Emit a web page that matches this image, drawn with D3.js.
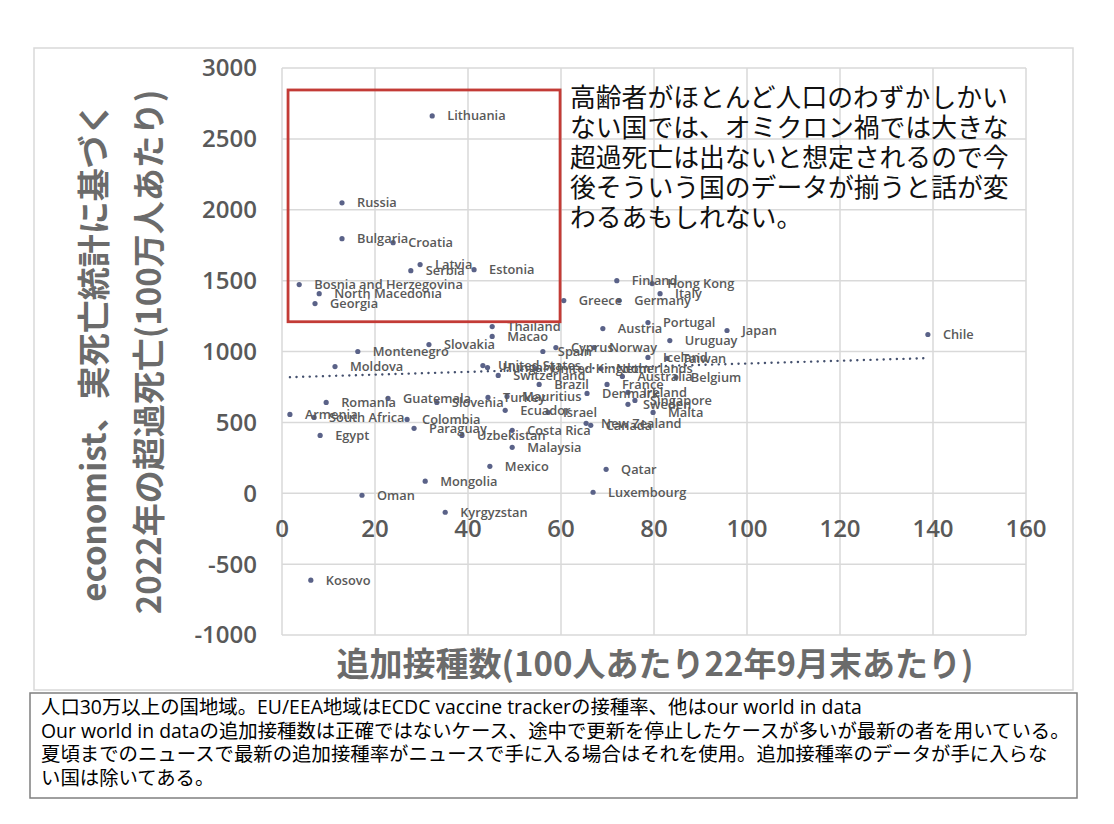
<!DOCTYPE html>
<html>
<head>
<meta charset="utf-8">
<script src="https://cdn.jsdelivr.net/npm/d3@7"></script>
<style>
  body { margin: 0; background: #fff; }
  svg { display: block; }
</style>
</head>
<body>
<div id="chart"></div>
<script>
// country, booster doses per 100 (end Sep 2022), excess deaths per million (2022)
const countries = ["Lithuania","Russia","Bulgaria","Croatia","Latvia","Serbia","Estonia",
  "Bosnia and Herzegovina","North Macedonia","Georgia","Thailand","Macao","Slovakia","Montenegro",
  "Moldova","Spain","Cyprus","Greece","Finland","Germany","Hong Kong","Italy","Portugal","Austria",
  "Japan","Uruguay","Norway","Iceland","Taiwan","Belgium","Netherlands","United States","Hungary",
  "United Kingdom","Switzerland","Australia","Brazil","France","Denmark","Ireland","Sweden",
  "Singapore","Malta","Mauritius","Turkey","Guatemala","Slovenia","Romania","Armenia","South Africa",
  "Egypt","Colombia","Paraguay","Uzbekistan","Costa Rica","Malaysia","Mexico","Mongolia","Oman",
  "Kyrgyzstan","Kosovo","Qatar","Luxembourg","New Zealand","Canada","Israel","Ecuador","Chile"];
const boosters = [32.3,12.9,12.9,23.9,29.7,27.7,41.3,
  3.7,8.0,7.1,45.2,45.2,31.6,16.3,
  11.4,56.1,58.9,60.6,72.0,72.5,79.6,81.3,78.7,69.0,
  95.7,83.4,67.1,78.7,82.8,84.7,68.6,43.2,44.2,
  54.6,46.5,73.2,55.3,69.9,65.6,74.4,74.4,
  75.9,79.8,48.4,44.3,22.8,33.3,9.5,1.7,6.9,
  8.2,26.9,28.4,38.7,49.5,49.5,44.7,30.8,17.2,
  35.1,6.2,69.7,66.9,65.4,66.4,57.2,48.0,138.9];
const excess = [2662,2049,1796,1768,1613,1570,1577,
  1472,1408,1338,1176,1106,1049,1000,
  894,1000,1028,1359,1500,1359,1479,1408,1204,1162,
  1148,1077,1028,958,951,817,880,901,887,
  880,831,824,768,768,704,711,627,
  655,570,683,676,669,641,641,556,535,
  408,521,458,408,444,324,190,85,-14,
  -134,-613,169,7,493,479,570,585,1120];

// linear trendline: excess = trendIntercept + trendSlope * boosters
const trendIntercept = 817;
const trendSlope = 0.98;

const xTicks = [0,20,40,60,80,100,120,140,160];
const yTicks = [-1000,-500,0,500,1000,1500,2000,2500,3000];

const xTitle = "追加接種数(100人あたり22年9月末あたり)";
const yTitle = ["economist、実死亡統計に基づく", "2022年の超過死亡(100万人あたり)"];
const note = ["高齢者がほとんど人口のわずかしかい", "ない国では、オミクロン禍では大きな",
  "超過死亡は出ないと想定されるので今", "後そういう国のデータが揃うと話が変", "わるあもしれない。"];
const footer = ["人口30万以上の国地域。EU/EEA地域はECDC vaccine trackerの接種率、他はour world in data",
  "Our world in dataの追加接種数は正確ではないケース、途中で更新を停止したケースが多いが最新の者を用いている。",
  "夏頃までのニュースで最新の追加接種率がニュースで手に入る場合はそれを使用。追加接種率のデータが手に入らな",
  "い国は除いてある。"];

const width = 1114, height = 824;
const jp = "'Noto Sans CJK JP', 'Noto Sans', sans-serif";
const gray = "#595959";

const data = countries.map((c, i) => ({name: c, x: boosters[i], y: excess[i]}));

const svg = d3.select("#chart").append("svg")
    .attr("width", width)
    .attr("height", height);

// chart frame
svg.append("rect")
    .attr("x", 34).attr("y", 48)
    .attr("width", 1039).attr("height", 642)
    .attr("fill", "none")
    .attr("stroke", "#d9d9d9")
    .attr("stroke-width", 1.5);

let x = d3.scaleLinear().domain([0, 160]).range([282, 1026]);
let y = d3.scaleLinear().domain([-1000, 3000]).range([635, 68]);

// grid
svg.append("g").selectAll("line").data(xTicks).enter().append("line")
    .attr("x1", d => x(d)).attr("x2", d => x(d))
    .attr("y1", y(3000)).attr("y2", y(-1000))
    .attr("stroke", "#d9d9d9").attr("stroke-width", 1.5);
svg.append("g").selectAll("line").data(yTicks).enter().append("line")
    .attr("x1", x(0)).attr("x2", x(160))
    .attr("y1", d => y(d)).attr("y2", d => y(d))
    .attr("stroke", "#d9d9d9").attr("stroke-width", 1.5);

// tick labels
svg.append("g").selectAll("text").data(yTicks).enter().append("text")
    .attr("x", 257).attr("y", d => y(d))
    .attr("dy", "0.35em")
    .style("text-anchor", "end")
    .style("font-family", "'Open Sans', sans-serif")
    .style("font-weight", 600)
    .style("font-size", "24px")
    .attr("fill", gray)
    .text(d => d);
svg.append("g").selectAll("text").data(xTicks).enter().append("text")
    .attr("x", d => x(d)).attr("y", y(0) + 44)
    .style("text-anchor", "middle")
    .style("font-family", "'Open Sans', sans-serif")
    .style("font-weight", 600)
    .style("font-size", "24px")
    .attr("fill", gray)
    .text(d => d);

// linear trendline across the range of the points
const xr = d3.extent(boosters);
svg.append("line")
    .attr("x1", x(xr[0])).attr("y1", y(trendIntercept + trendSlope * xr[0]))
    .attr("x2", x(xr[1])).attr("y2", y(trendIntercept + trendSlope * xr[1]))
    .attr("stroke", "#44506e")
    .attr("stroke-width", 2.4)
    .attr("stroke-linecap", "round")
    .attr("stroke-dasharray", "0.1,6.5");

// points
svg.append("g").selectAll("circle").data(data).enter().append("circle")
    .attr("cx", d => x(d.x)).attr("cy", d => y(d.y))
    .attr("r", 2.6)
    .attr("fill", "#5a6288");

// data labels
svg.append("g").selectAll("text").data(data).enter().append("text")
    .attr("x", d => x(d.x) + 15).attr("y", d => y(d.y))
    .attr("dy", "0.35em")
    .style("font-family", "'Open Sans', sans-serif")
    .style("font-weight", 600)
    .style("font-size", "12.8px")
    .attr("fill", gray)
    .text(d => d.name);

// highlighted box
svg.append("rect")
    .attr("x", x(1.3)).attr("y", y(2845))
    .attr("width", x(59.8) - x(1.3)).attr("height", y(1210) - y(2845))
    .attr("fill", "none")
    .attr("stroke", "#c33b36")
    .attr("stroke-width", 2.8);

// annotation
svg.append("g").selectAll("text").data(note).enter().append("text")
    .attr("x", 570).attr("y", (d, i) => 107 + i * 30)
    .style("font-family", jp)
    .style("font-size", "25.8px")
    .attr("fill", "#111")
    .text(d => d);

// axis titles
svg.append("text")
    .attr("x", 655).attr("y", 664)
    .attr("dy", "0.35em")
    .style("text-anchor", "middle")
    .style("font-family", jp)
    .style("font-weight", "bold")
    .style("font-size", "33px")
    .attr("fill", "#6b6b6b")
    .text(xTitle);
svg.append("g").selectAll("text").data(yTitle).enter().append("text")
    .attr("transform", (d, i) => `translate(${94 + i * 55}, 352) rotate(-90)`)
    .attr("dy", "0.35em")
    .style("text-anchor", "middle")
    .style("font-family", jp)
    .style("font-weight", "bold")
    .style("font-size", "33px")
    .attr("fill", "#6b6b6b")
    .text(d => d);

// footer box
svg.append("rect")
    .attr("x", 30).attr("y", 693)
    .attr("width", 1047).attr("height", 105)
    .attr("fill", "#fff")
    .attr("stroke", "#7f7f7f")
    .attr("stroke-width", 1.5);
svg.append("g").selectAll("text").data(footer).enter().append("text")
    .attr("x", 41).attr("y", (d, i) => 714 + i * 23.5)
    .style("font-family", "'Open Sans', " + jp)
    .style("font-size", "19.4px")
    .attr("fill", "#000")
    .text(d => d);
</script>
</body>
</html>
